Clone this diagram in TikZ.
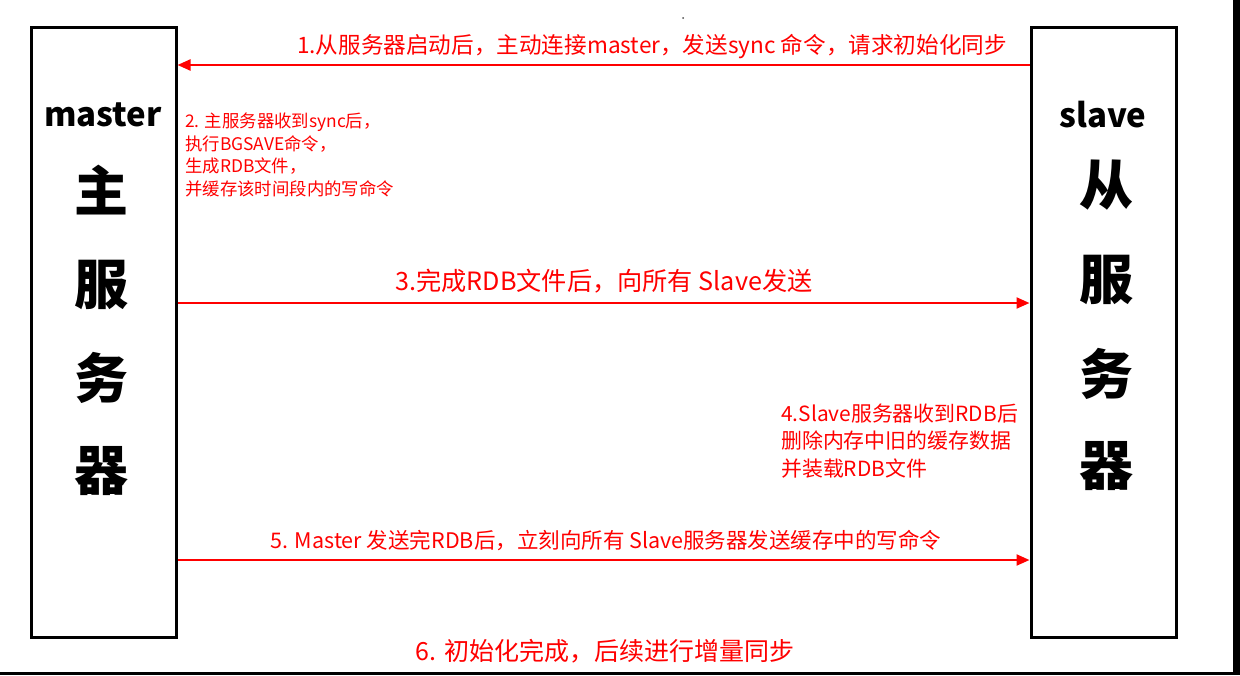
\documentclass[tikz,border=0pt]{standalone}
\usepackage{fontspec}
\setmainfont{Noto Sans CJK SC}
\usetikzlibrary{arrows.meta}
\definecolor{redc}{RGB}{255,0,0}
\tikzset{
  serverbox/.style={draw=black, line width=3pt, minimum width=145pt, minimum height=610pt, inner sep=0pt},
  boxlabel/.style={inner sep=0pt, font=\bfseries\fontsize{33}{33}\selectfont},
  bigchar/.style={inner sep=0pt, font=\bfseries\fontsize{54}{54}\selectfont},
  redtext/.style={inner sep=0pt, text=redc},
  flow/.style={draw=redc, line width=2.2pt, -{Triangle[length=13pt,width=11pt]}},
}
\begin{document}
\begin{tikzpicture}[x=1pt,y=-1pt]
\useasboundingbox (0,0) rectangle (1240,675);
% frame edges
\fill[black] (1233,0) rectangle (1240,675);
\fill[black] (0,672) rectangle (1240,675);
\fill[black!70] (683,18) circle (1pt);
% boxes
\node[serverbox] (M) at (103.5,332) {};
\node[serverbox] (S) at (1103.5,332) {};
% box texts
\node[boxlabel] (mlab) at (103,115) {master};
\node[bigchar] (m1) at (101,190) {主};
\node[bigchar] (m2) at (101,285) {服};
\node[bigchar] (m3) at (101,378) {务};
\node[bigchar] (m4) at (101,471) {器};
\node[boxlabel] (slab) at (1103,115) {slave};
\node[bigchar] (s1) at (1106,185) {从};
\node[bigchar] (s2) at (1106,280) {服};
\node[bigchar] (s3) at (1106,374) {务};
\node[bigchar] (s4) at (1106,466) {器};
% arrows
\draw[flow] (S.west |- 0,65) -- (M.east |- 0,65);
\draw[flow] (M.east |- 0,303) -- (S.west |- 0,303);
\draw[flow] (M.east |- 0,560) -- (S.west |- 0,560);
% labels
\node[redtext, font=\fontsize{22.6}{22.6}\selectfont] (t1) at (652,47) {1.从服务器启动后，主动连接master，发送sync 命令，请求初始化同步};
\node[redtext, font=\fontsize{17.4}{22.4}\selectfont, align=left, anchor=west] (t2) at (185,155) {2. 主服务器收到sync后，\\执行BGSAVE命令，\\生成RDB文件，\\并缓存该时间段内的写命令};
\node[redtext, font=\fontsize{25.2}{25.2}\selectfont] (t3) at (604,281) {3.完成RDB文件后，向所有 Slave发送};
\node[redtext, font=\fontsize{20.9}{27.5}\selectfont, align=left, anchor=west] (t4) at (781,441) {4.Slave服务器收到RDB后\\删除内存中旧的缓存数据\\并装载RDB文件};
\node[redtext, font=\fontsize{21.5}{21.5}\selectfont] (t5) at (606,540) {5. Master 发送完RDB后，立刻向所有 Slave服务器发送缓存中的写命令};
\node[redtext, font=\fontsize{25}{25}\selectfont] (t6) at (605,651) {6. 初始化完成，后续进行增量同步};
\end{tikzpicture}
\end{document}
